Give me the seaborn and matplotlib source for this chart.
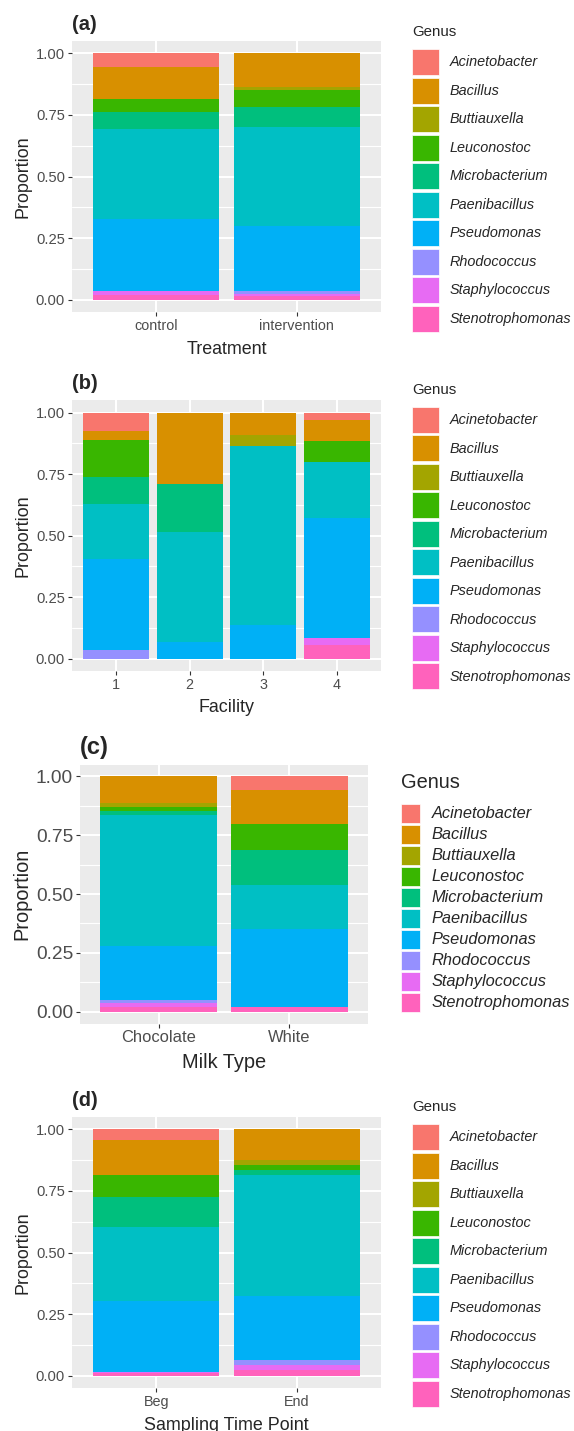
import pandas as pd
import numpy as np
import seaborn as sns
from matplotlib import pyplot as plt
from matplotlib.patches import Patch

genera = ["Acinetobacter", "Bacillus", "Buttiauxella", "Leuconostoc", "Microbacterium",
          "Paenibacillus", "Pseudomonas", "Rhodococcus", "Staphylococcus", "Stenotrophomonas"]
genus_colors = ["#F8766D", "#D89000", "#A3A500", "#39B600", "#00BF7D",
                "#00BFC4", "#00B0F6", "#9590FF", "#E76BF3", "#FF62BC"]

# proportions, one row per group, columns in the order of `genera`
treatment = ["control", "intervention"]
treatment_vals = [
    [0.057, 0.128, 0.000, 0.054, 0.069, 0.364, 0.292, 0.000, 0.016, 0.020],
    [0.000, 0.138, 0.011, 0.070, 0.081, 0.400, 0.264, 0.012, 0.008, 0.016],
]

facility = ["1", "2", "3", "4"]
facility_vals = [
    [0.075, 0.037, 0.000, 0.149, 0.110, 0.222, 0.370, 0.037, 0.000, 0.000],
    [0.000, 0.290, 0.000, 0.000, 0.195, 0.449, 0.066, 0.000, 0.000, 0.000],
    [0.000, 0.092, 0.043, 0.000, 0.000, 0.728, 0.137, 0.000, 0.000, 0.000],
    [0.030, 0.085, 0.000, 0.085, 0.000, 0.230, 0.485, 0.000, 0.028, 0.057],
]

milk = ["Chocolate", "White"]
milk_vals = [
    [0.000, 0.115, 0.016, 0.017, 0.017, 0.557, 0.229, 0.012, 0.015, 0.022],
    [0.057, 0.146, 0.000, 0.110, 0.150, 0.186, 0.333, 0.000, 0.000, 0.018],
]

timepoint = ["Beg", "End"]
timepoint_vals = [
    [0.045, 0.139, 0.000, 0.089, 0.122, 0.301, 0.286, 0.000, 0.006, 0.012],
    [0.000, 0.124, 0.020, 0.019, 0.022, 0.490, 0.259, 0.023, 0.019, 0.024],
]

sns.set_style("darkgrid", {"axes.facecolor": "#EBEBEB", "grid.color": "white"})
plt.rcParams["font.family"] = ["Liberation Sans", "DejaVu Sans"]

W, H = 574, 1431
fig = plt.figure(figsize=(W / 100, H / 100), dpi=100)
pal = dict(zip(genera, genus_colors))


def long_df(groups, vals):
    rows = []
    for g, v in zip(groups, vals):
        for genus, p in zip(genera, v):
            rows.append({"group": g, "Genus": genus, "prop": p})
    return pd.DataFrame(rows)


def panel(groups, vals, box, tag, xlabel, leg, big=False):
    x0, y0, x1, y1 = box
    ax = fig.add_axes([x0 / W, 1 - y1 / H, (x1 - x0) / W, (y1 - y0) / H])
    df = long_df(groups, vals)
    sns.histplot(data=df, x="group", hue="Genus", weights="prop", multiple="stack",
                 hue_order=genera, palette=pal, discrete=True, shrink=0.9,
                 linewidth=0, alpha=1, legend=False, ax=ax)
    n = len(groups)
    ax.set_xlim(-0.6, n - 0.4)
    ax.set_ylim(-0.05, 1.05)
    ax.set_xticks(range(n))
    ax.set_xticklabels(groups)
    ax.set_yticks([0, 0.25, 0.5, 0.75, 1.0])
    ax.set_yticklabels(["0.00", "0.25", "0.50", "0.75", "1.00"])
    ax.set_yticks([0.125, 0.375, 0.625, 0.875], minor=True)
    ax.grid(which="major", color="white", lw=1.5)
    ax.grid(which="minor", axis="y", color="white", lw=0.8)
    ax.set_axisbelow(True)
    for s in ax.spines.values():
        s.set_visible(False)
    if big:
        ytick, xtick, lab, tagsize = 13.8, 11.9, 14.4, 17
    else:
        ytick, xtick, lab, tagsize = 10.6, 10.4, 12.9, 14.4
    ax.tick_params(axis="y", which="major", length=3, width=0.8, color="#333333",
                   labelsize=ytick, labelcolor="#4D4D4D", pad=2, left=True)
    ax.tick_params(axis="x", which="major", length=3, width=0.8, color="#333333",
                   labelsize=xtick, labelcolor="#4D4D4D", pad=1.8, bottom=True)
    ax.tick_params(which="minor", length=0)
    ax.set_xlabel(xlabel, fontsize=lab, labelpad=5.5)
    ax.set_ylabel("Proportion", fontsize=lab, labelpad=3)
    fig.text(x0 / W, 1 - (y0 - 17) / H, tag, fontsize=tagsize, fontweight="bold",
             ha="left", va="center")

    # legend: title as its own text, keys below it
    lx, title_y, key_top = leg
    if big:
        legsize, legtitle, kw, kh, step, gap = 11.8, 14.4, 19, 19, 21, 12
    else:
        legsize, legtitle, kw, kh, step, gap = 10.4, 10.8, 27, 26, 28.5, 11
    fs = legsize / 0.72
    fig.text(lx / W, 1 - title_y / H, "Genus", fontsize=legtitle, ha="left", va="center")
    handles = [Patch(facecolor=c, edgecolor="white", linewidth=0.5) for c in genus_colors]
    fig.legend(handles, genera, loc="upper left",
               bbox_to_anchor=(lx / W, 1 - key_top / H), frameon=False,
               borderpad=0, borderaxespad=0,
               handlelength=kw / fs, handleheight=(kh / fs - 0.245) / 0.65,
               labelspacing=(step - kh) / fs, handletextpad=gap / fs,
               prop={"size": legsize, "style": "italic"})
    return ax


panel(treatment, treatment_vals, (72, 41, 381, 312.3), "(a)", "Treatment", (412, 32, 49))
panel(facility, facility_vals, (72, 400.4, 381, 671), "(b)", "Facility", (412, 390, 407))
panel(milk, milk_vals, (80, 764.6, 368, 1023.5), "(c)", "Milk Type", (401, 783, 803.5), big=True)
panel(timepoint, timepoint_vals, (72, 1117, 381, 1388.3), "(d)", "Sampling Time Point",
      (412, 1107, 1124))

fig.savefig("out.png", dpi=100)
